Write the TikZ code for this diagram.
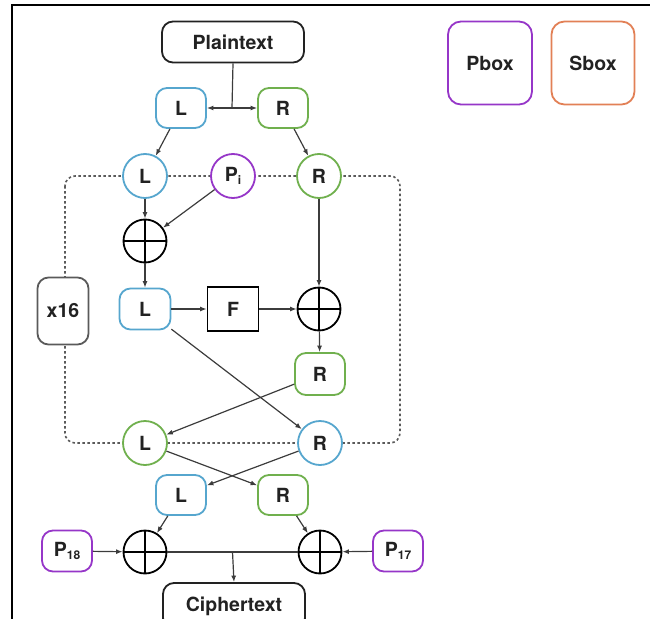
\documentclass[tikz,border=0pt]{standalone}
\usepackage{fontspec}
\setmainfont{TeX Gyre Heros}
\usetikzlibrary{arrows.meta,calc}
\definecolor{cblue}{RGB}{86,166,206}
\definecolor{cgreen}{RGB}{112,176,78}
\definecolor{cpurple}{RGB}{150,54,200}
\definecolor{corange}{RGB}{226,128,86}
\definecolor{txt}{RGB}{34,34,34}
\definecolor{linec}{RGB}{60,60,60}
\definecolor{dotc}{RGB}{90,90,90}
\newcommand{\lowsub}[1]{\raisebox{-3pt}{\fontsize{12}{12}\selectfont #1}}
\begin{document}
\begin{tikzpicture}[x=1pt,y=-1pt,
  font=\fontsize{19.5}{22}\selectfont\bfseries,
  box/.style={draw, rounded corners=11pt, line width=1.8pt, fill=white,
    minimum width=50pt, minimum height=40pt, inner sep=0pt, text=txt},
  ring/.style={circle, draw, line width=1.8pt, fill=white,
    minimum size=44pt, inner sep=0pt, text=txt},
  xor/.style={circle, draw=black, line width=1.8pt, fill=white,
    minimum size=43pt, inner sep=0pt,
    path picture={\draw[line width=1.8pt]
      (path picture bounding box.north) -- (path picture bounding box.south)
      (path picture bounding box.west) -- (path picture bounding box.east);}},
  arr/.style={-{Latex[length=6.5pt,width=5pt]}, line width=1.2pt, draw=linec},
  link/.style={line width=1.2pt, draw=linec},
  loop/.style={draw=dotc, line width=1.6pt, dash pattern=on 2.5pt off 2.5pt,
    rounded corners=10pt}]
\useasboundingbox (0,0) rectangle (650,618);
\clip (0,0) rectangle (650,618);

% page frame
\draw[line width=1.6pt, draw=black] (12,620) -- (12,5) -- (652,5);

% round loop
\draw[loop] (65,176) rectangle (400,443);

% legend
\node[box, draw=cpurple, minimum width=84pt, minimum height=83pt, rounded corners=13pt] (pbox) at (490,63) {Pbox};
\node[box, draw=corange, minimum width=83pt, minimum height=83pt, rounded corners=13pt] (sbox) at (593,63) {Sbox};

% input
\node[box, draw=txt, minimum width=142pt, minimum height=41pt] (pt) at (233,42) {Plaintext};
\node[box, draw=cblue] (ltop) at (181,108) {L};
\node[box, draw=cgreen] (rtop) at (283,108) {R};
\coordinate (split) at (232,108);

% round
\node[ring, draw=cblue] (cl1) at (145,176) {L};
\node[ring, draw=cpurple] (pi) at (233,176) {P\lowsub{i}};
\node[ring, draw=cgreen] (cr1) at (319,176) {R};
\node[xor] (x1) at (145,241) {};
\node[box, draw=cblue, minimum width=51pt, minimum height=41pt] (lmid) at (145,309) {L};
\node[draw=black, line width=1.8pt, fill=white, minimum width=51pt, minimum height=44pt, inner sep=0pt, text=txt] (f) at (233,309) {F};
\node[xor] (x2) at (319,309) {};
\node[box, draw=cgreen, minimum height=42pt] (rmid) at (320,374) {R};
\node[ring, draw=cgreen] (cl2) at (145,443) {L};
\node[ring, draw=cblue] (cr2) at (320,443) {R};
\node[box, draw=dotc, minimum width=51pt, minimum height=67pt, rounded corners=11pt] (rep) at (63,311) {x16};

% output
\node[box, draw=cblue] (lbot) at (181,495) {L};
\node[box, draw=cgreen] (rbot) at (283,495) {R};
\node[xor] (x3) at (145,552) {};
\node[xor] (x4) at (320,552) {};
\node[box, draw=cpurple, minimum height=41pt] (p18) at (67,551) {P\lowsub{18}};
\node[box, draw=cpurple, minimum height=41pt] (p17) at (398,551) {P\lowsub{17}};
\node[box, draw=txt, minimum width=142pt, minimum height=46pt] (ct) at (234,606) {Ciphertext};
\coordinate (join) at ($(x3)!0.5!(x4)$);

% connectors
\draw[link] (pt.south) -- (split);
\draw[arr] (split) -- (ltop.east);
\draw[arr] (split) -- (rtop.west);
\draw[arr] (ltop) -- (cl1);
\draw[arr] (rtop) -- (cr1);
\draw[arr] (cl1) -- (x1);
\draw[arr] (pi) -- (x1);
\draw[arr] (cr1) -- (x2);
\draw[arr] (x1) -- (lmid);
\draw[arr] (lmid) -- (f);
\draw[arr] (f) -- (x2);
\draw[arr] (x2) -- (rmid);
\draw[arr] (lmid) -- (cr2);
\draw[arr] (rmid) -- (cl2);
\draw[arr] (cl2) -- (rbot);
\draw[arr] (cr2) -- (lbot);
\draw[arr] (lbot) -- (x3);
\draw[arr] (rbot) -- (x4);
\draw[arr] (p18) -- (x3);
\draw[arr] (p17) -- (x4);
\draw[link] (x3.east) -- (x4.west);
\draw[arr] (join) -- (ct.north);
\end{tikzpicture}
\end{document}
